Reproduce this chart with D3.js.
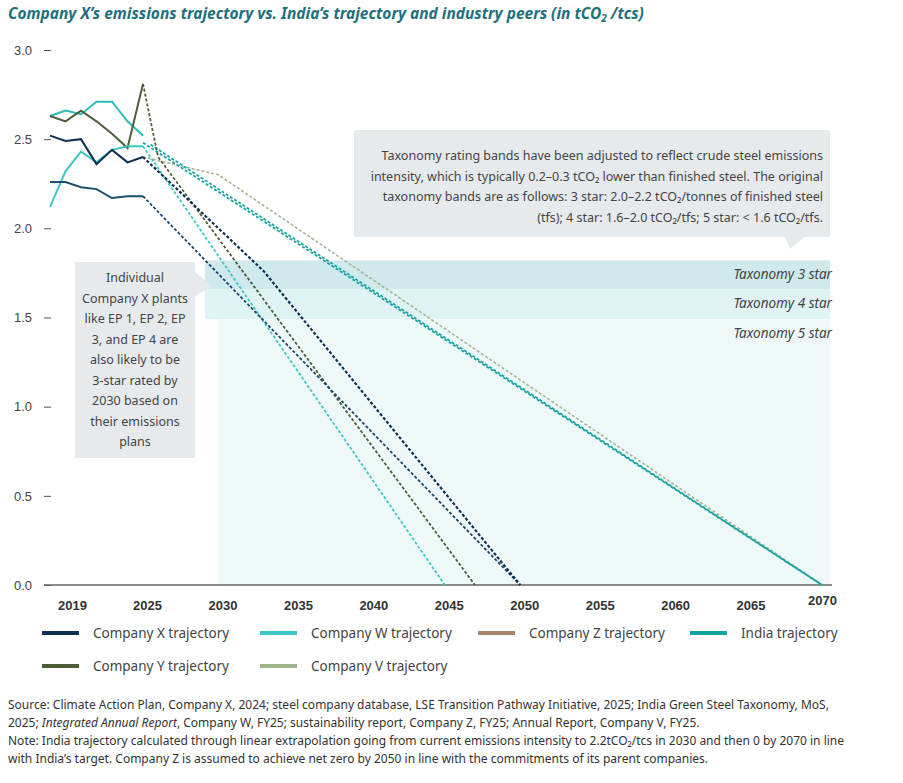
<!DOCTYPE html>
<html lang="en">
<head>
<meta charset="utf-8">
<title>Company X emissions trajectory</title>
<script src="https://cdn.jsdelivr.net/npm/d3@7"></script>
<style>
  body { margin: 0; background: #fff; font-family: "Source Sans Pro", "Noto Sans", Roboto, sans-serif; }
  .title { font-size: 15.5px; font-weight: bold; font-style: italic; fill: #1f6f7d; }
  .tick text { font-size: 13px; fill: #444; }
  .xaxis .tick text { font-weight: bold; fill: #333; }
  .legend text { font-size: 13.5px; fill: #444; }
  .note { font-size: 12px; fill: #333; }
  .box text { font-size: 12.5px; fill: #444; }
  .band text { font-size: 13.5px; font-style: italic; fill: #444; }
</style>
</head>
<body>
<svg id="chart" width="903" height="783"></svg>
<script>
var histYears = [2019, 2020, 2021, 2022, 2023, 2024, 2025];
var companyX = [2.52, 2.49, 2.50, 2.36, 2.44, 2.37, 2.40];
var companyXPlant = [2.26, 2.26, 2.23, 2.22, 2.17, 2.18, 2.18];
var companyW = [2.12, 2.32, 2.43, 2.37, 2.44, 2.46, 2.46];
var companyY = [2.63, 2.60, 2.66, 2.60, 2.53, 2.45, 2.81];
var india = [2.63, 2.66, 2.64, 2.71, 2.71, 2.60, 2.52];

var projX = [[2025, 2.40], [2033, 1.76], [2050, 0]];
var projXPlant = [[2025, 2.18], [2050, 0]];
var projW = [[2025, 2.46], [2045, 0]];
var projY = [[2025, 2.81], [2026, 2.40], [2047, 0]];
var projIndia = [[2025, 2.48], [2070, 0]];
var projIndia2 = [[2025.5, 2.47], [2070, 0]];
var projV = [[2025, 2.40], [2030, 2.30], [2070, 0]];

var xTicks = [2019, 2025, 2030, 2035, 2040, 2045, 2050, 2055, 2060, 2065, 2070];
var yTicks = [0, 0.5, 1.0, 1.5, 2.0, 2.5, 3.0];
var bands = [["Taxonomy 3 star", 1.82, 1.66], ["Taxonomy 4 star", 1.66, 1.49], ["Taxonomy 5 star", 1.49, 0]];
var legendNames = ["Company X trajectory", "Company W trajectory", "Company Z trajectory", "India trajectory", "Company Y trajectory", "Company V trajectory"];
var legendColors = ["#0d2f52", "#3cc7c4", "#a9866a", "#17a2a2", "#4b5e39", "#9bb489"];

var svg = d3.select("#chart");
var x = d3.scaleLinear().domain([2019, 2025, 2070]).range([50, 143, 822]);
var y = d3.scaleLinear().domain([0, 3]).range([585, 50]);

svg.append("text").attr("class", "title").attr("x", 8).attr("y", 19)
  .html("Company X\u2019s emissions trajectory vs. India\u2019s trajectory and industry peers (in tCO<tspan font-size='10' dy='3'>2</tspan><tspan dy='-3'> /tcs)</tspan>");

// bands
var bandColors = ["#cfe9ed", "#dff2f4", "#eef8f9"];
var bandStart = [205, 205, x(2030)];
var bg = svg.append("g").attr("class", "band");
bands.forEach(function(b, i) {
  bg.append("rect").attr("x", bandStart[i]).attr("width", 830 - bandStart[i])
    .attr("y", y(b[1])).attr("height", y(b[2]) - y(b[1])).attr("fill", bandColors[i]);
  bg.append("text").attr("x", 832).attr("y", y(b[1]) + 19).attr("text-anchor", "end").text(b[0]);
});

// axes
var ya = svg.append("g").attr("transform", "translate(44,0)")
  .call(d3.axisLeft(y).tickValues(yTicks).tickFormat(d3.format(".1f")).tickSize(7).tickPadding(5));
ya.select(".domain").remove();
ya.selectAll("line").attr("stroke", "#555");
ya.selectAll(".tick text").attr("x", -12);
ya.selectAll(".tick line").attr("x1", 0).attr("x2", 7);

svg.append("line").attr("x1", 44).attr("x2", 832).attr("y1", y(0)).attr("y2", y(0))
  .attr("stroke", "#666").attr("stroke-width", 1.5);
var xa = svg.append("g").attr("class", "xaxis").attr("transform", "translate(0," + (y(0) + 6) + ")")
  .call(d3.axisBottom(x).tickValues(xTicks).tickFormat(d3.format("d")).tickSize(0).tickPadding(7));
xa.select(".domain").remove();
xa.selectAll(".tick text").attr("x", function(d) { return d === 2019 ? 22 : (d === 2070 ? 0 : 4); })
  .attr("dy", function(d) { return d === 2070 ? "0.5em" : "0.9em"; });

var line = d3.line().x(function(d) { return x(d[0]); }).y(function(d) { return y(d[1]); });
function hist(vals) { return vals.map(function(v, i) { return [histYears[i], v]; }); }

// projections
[[projV, "#a4b595", 1.6], [projIndia2, "#17a2a2", 1.8], [projIndia, "#17a2a2", 1.8],
 [projW, "#3cc7c4", 1.8], [projY, "#4b5e39", 1.8], [projXPlant, "#1b4466", 1.8], [projX, "#0d2f52", 2.2]]
  .forEach(function(p) {
    svg.append("path").datum(p[0]).attr("d", line).attr("fill", "none")
      .attr("stroke", p[1]).attr("stroke-width", p[2]).attr("stroke-dasharray", "3,2");
  });

// history
[[india, "#2cbcb9"], [companyY, "#4b5e39"], [companyW, "#3cc7c4"], [companyXPlant, "#1b4f6b"], [companyX, "#0d2f52"]]
  .forEach(function(s) {
    svg.append("path").datum(hist(s[0])).attr("d", line).attr("fill", "none")
      .attr("stroke", s[1]).attr("stroke-width", 2);
  });

// callout boxes
var box1 = svg.append("g").attr("class", "box");
box1.append("path").attr("d", "M354,130 H830 V237 H805 L790,249 L785,237 H354 Z").attr("fill", "#e7eaed");
["Taxonomy rating bands have been adjusted to reflect crude steel emissions",
 "intensity, which is typically 0.2\u20130.3 tCO\u2082 lower than finished steel. The original",
 "taxonomy bands are as follows: 3 star: 2.0\u20132.2 tCO\u2082/tonnes of finished steel",
 "(tfs); 4 star: 1.6\u20132.0 tCO\u2082/tfs; 5 star: < 1.6 tCO\u2082/tfs."].forEach(function(t, i) {
  box1.append("text").attr("x", 823).attr("y", 160 + i * 20.5).attr("text-anchor", "end").text(t);
});
var box2 = svg.append("g").attr("class", "box");
box2.append("path").attr("d", "M75,262 H195 V272 L212,286 L195,296 V458 H75 Z").attr("fill", "#e7eaed");
["Individual", "Company X plants", "like EP 1, EP 2, EP", "3, and EP 4 are", "also likely to be",
 "3-star rated by", "2030 based on", "their emissions", "plans"].forEach(function(t, i) {
  box2.append("text").attr("x", 135).attr("y", 282 + i * 20.5).attr("text-anchor", "middle").text(t);
});

// legend
var lg = svg.append("g").attr("class", "legend");
var lx = [42, 260, 478, 690];
legendNames.forEach(function(n, i) {
  var gx = lx[i % 4], gy = i < 4 ? 633 : 666;
  lg.append("line").attr("x1", gx).attr("x2", gx + 37).attr("y1", gy).attr("y2", gy)
    .attr("stroke", legendColors[i]).attr("stroke-width", 4);
  lg.append("text").attr("x", gx + 51).attr("y", gy + 5).text(n);
});

// notes
var notes = [
  "Source: Climate Action Plan, Company X, 2024; steel company database, LSE Transition Pathway Initiative, 2025; India Green Steel Taxonomy, MoS,",
  "2025; <tspan font-style='italic'>Integrated Annual Report</tspan>, Company W, FY25; sustainability report, Company Z, FY25; Annual Report, Company V, FY25.",
  "Note: India trajectory calculated through linear extrapolation going from current emissions intensity to 2.2tCO\u2082/tcs in 2030 and then 0 by 2070 in line",
  "with India\u2019s target. Company Z is assumed to achieve net zero by 2050 in line with the commitments of its parent companies."];
notes.forEach(function(t, i) {
  svg.append("text").attr("class", "note").attr("x", 8).attr("y", 709 + i * 18).html(t);
});
</script>
</body>
</html>
